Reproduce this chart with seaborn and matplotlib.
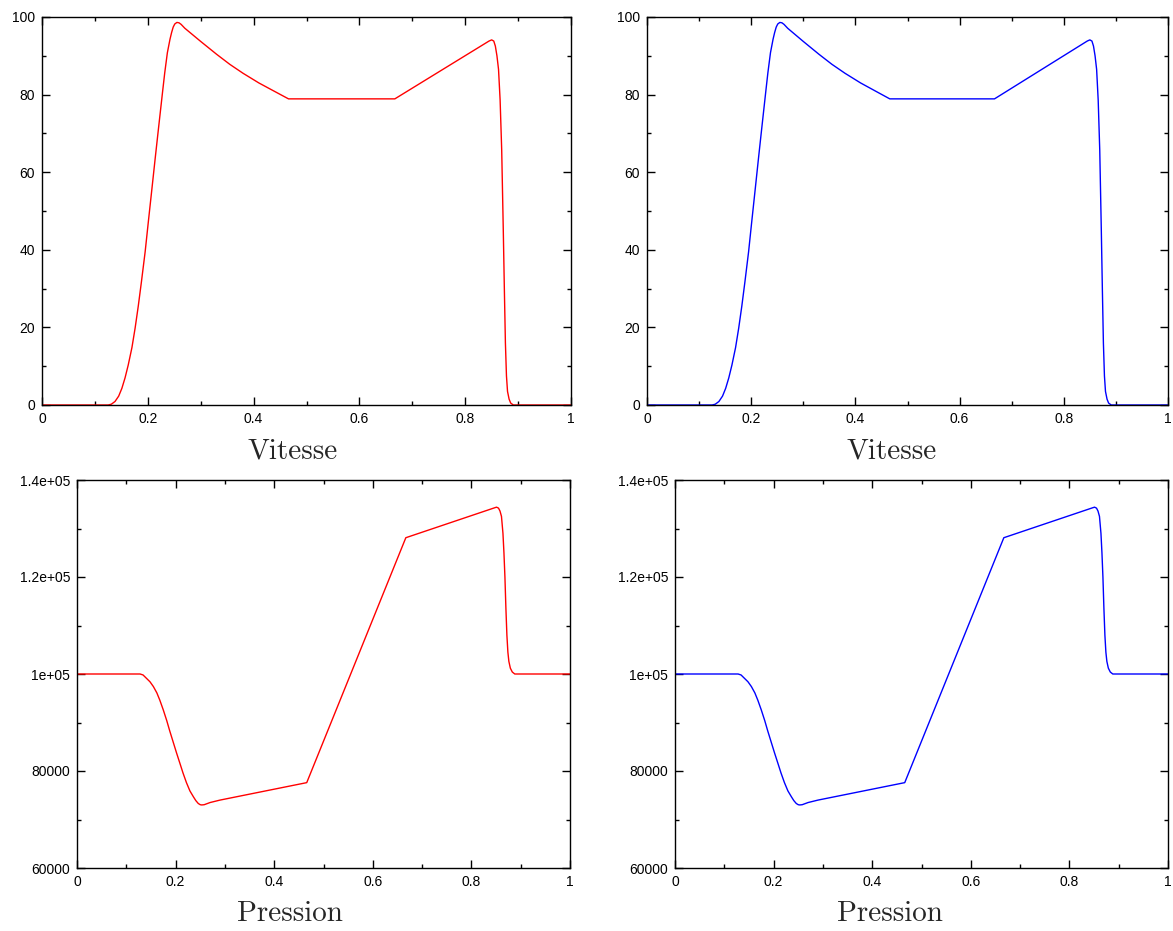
import numpy as np
import pandas as pd
import matplotlib
matplotlib.use('Agg')
import matplotlib.pyplot as plt
from matplotlib.ticker import MultipleLocator, FixedLocator, FixedFormatter
import seaborn as sns

# velocity profile
x_vit = [0.0, 0.125, 0.131, 0.138, 0.145, 0.151, 0.157, 0.163, 0.170, 0.176,
         0.182, 0.188, 0.195, 0.201, 0.208, 0.214, 0.219, 0.223, 0.228, 0.232,
         0.237, 0.242, 0.245, 0.248, 0.251, 0.255, 0.259, 0.263, 0.270, 0.30,
         0.33, 0.355, 0.38, 0.41, 0.44, 0.466, 0.667, 0.845, 0.850, 0.854,
         0.857, 0.860, 0.863, 0.866, 0.869, 0.872, 0.874, 0.876, 0.878, 0.880,
         0.883, 0.886, 0.891, 1.0]
vitesse = [0.0, 0.0, 0.2, 0.9, 2.3, 4.3, 7.0, 10.3, 14.8, 19.8,
           25.5, 31.8, 39.5, 47.2, 56.0, 63.6, 69.8, 74.7, 80.8, 85.6,
           90.8, 94.3, 96.0, 97.4, 98.2, 98.6, 98.5, 98.1, 97.1, 93.7,
           90.4, 87.8, 85.5, 83.0, 80.8, 78.9, 78.9, 93.8, 94.1, 93.8,
           92.5, 90.0, 86.5, 78.6, 65.7, 45.0, 30.0, 16.0, 7.5, 3.5,
           1.5, 0.5, 0.0, 0.0]

# pressure profile
x_pres = [0.0, 0.128, 0.134, 0.141, 0.148, 0.155, 0.162, 0.168, 0.175, 0.182,
          0.188, 0.195, 0.202, 0.209, 0.215, 0.222, 0.229, 0.236, 0.241, 0.246,
          0.250, 0.253, 0.258, 0.270, 0.290, 0.466, 0.667, 0.845, 0.851, 0.855,
          0.858, 0.861, 0.864, 0.866, 0.868, 0.870, 0.872, 0.874, 0.876, 0.879,
          0.883, 0.888, 1.0]
pression = [100000, 100000, 99800, 99100, 98400, 97400, 96100, 94600, 92600, 90400,
            88300, 86000, 83700, 81500, 79600, 77600, 75900, 74700, 73900, 73300,
            73050, 73000, 73050, 73500, 74000, 77600, 128100, 134200, 134400, 134200,
            133600, 132500, 129000, 125000, 120000, 113500, 108000, 104500, 102600, 101200,
            100400, 100000, 100000]

x_ticks = [0, 0.2, 0.4, 0.6, 0.8, 1]
x_labels = ['0', '0.2', '0.4', '0.6', '0.8', '1']
vit_ticks = [0, 20, 40, 60, 80, 100]
vit_labels = ['0', '20', '40', '60', '80', '100']
pres_ticks = [60000, 80000, 100000, 120000, 140000]
pres_labels = ['60000', '80000', '1e+05', '1.2e+05', '1.4e+05']

sns.set_style('ticks')
plt.rcParams['font.family'] = ['Liberation Sans', 'DejaVu Sans']

df_v = pd.DataFrame({'x': x_vit, 'y': vitesse})
df_p = pd.DataFrame({'x': x_pres, 'y': pression})

fig = plt.figure(figsize=(11.73, 9.31), dpi=100)

panels = [
    # rect, data, colour, yticks, ylabels, yminor, ylim, title, label x
    ([42/1173, 526/931, 529/1173, 388/931], df_v, '#ff0000', vit_ticks, vit_labels, 10, (0, 100), 'Vitesse', 0.473),
    ([647/1173, 526/931, 521/1173, 388/931], df_v, '#0000ff', vit_ticks, vit_labels, 10, (0, 100), 'Vitesse', 0.47),
    ([77/1173, 63/931, 493/1173, 388/931], df_p, '#ff0000', pres_ticks, pres_labels, 10000, (60000, 140000), 'Pression', 0.432),
    ([675/1173, 63/931, 493/1173, 388/931], df_p, '#0000ff', pres_ticks, pres_labels, 10000, (60000, 140000), 'Pression', 0.436),
]

for rect, df, col, yt, yl, ym, ylim, title, lx in panels:
    ax = fig.add_axes(rect)
    sns.lineplot(data=df, x='x', y='y', ax=ax, color=col, lw=1)
    ax.set_xlim(0, 1)
    ax.set_ylim(*ylim)
    ax.xaxis.set_major_locator(FixedLocator(x_ticks))
    ax.xaxis.set_major_formatter(FixedFormatter(x_labels))
    ax.xaxis.set_minor_locator(MultipleLocator(0.1))
    ax.yaxis.set_major_locator(FixedLocator(yt))
    ax.yaxis.set_major_formatter(FixedFormatter(yl))
    ax.yaxis.set_minor_locator(MultipleLocator(ym))
    ax.tick_params(which='both', direction='in', top=True, right=True,
                   colors='black', width=1)
    ax.tick_params(which='major', length=6, labelsize=10, pad=5)
    ax.tick_params(which='minor', length=3)
    for s in ax.spines.values():
        s.set_visible(True)
        s.set_color('black')
        s.set_linewidth(1)
    ax.set_ylabel('')
    ax.set_xlabel(title, family='cmr10', fontsize=21)
    ax.xaxis.set_label_coords(lx, -0.085)

fig.savefig('out.png', dpi=100)
